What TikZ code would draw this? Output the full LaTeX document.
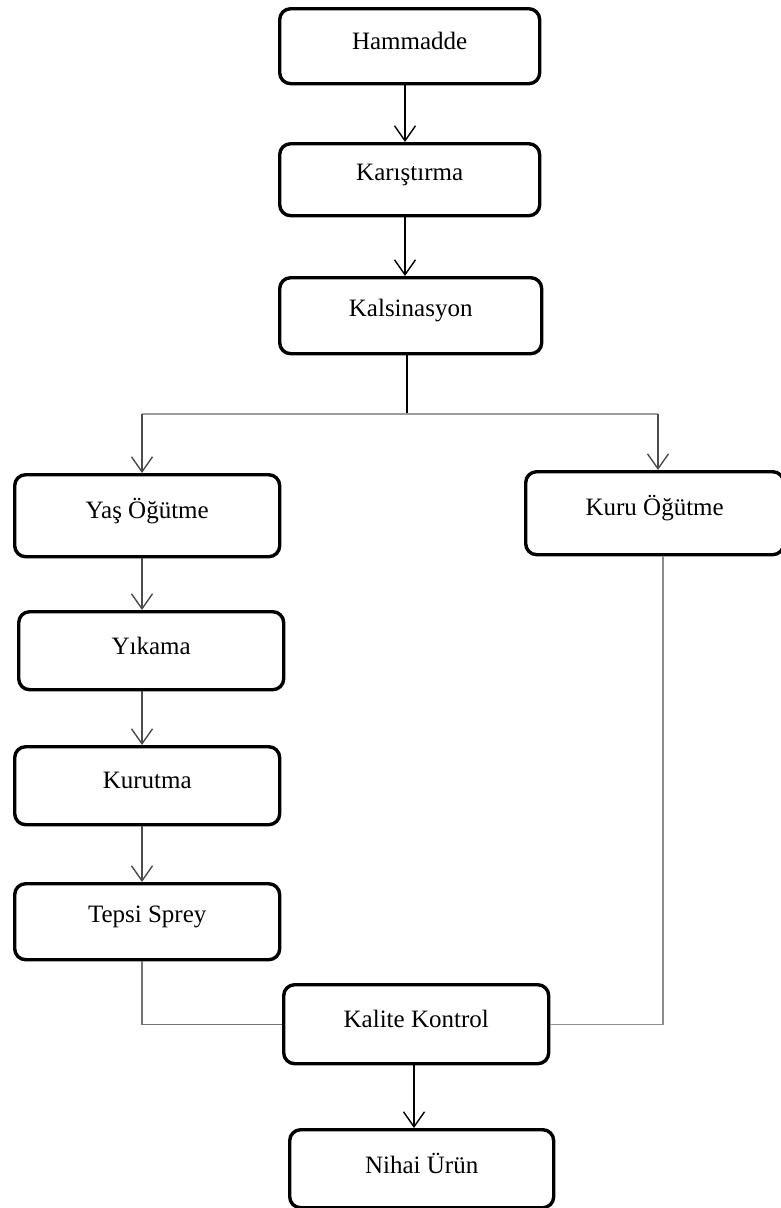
\documentclass[tikz,border=0pt]{standalone}
\usepackage{fontspec}
\setmainfont{Liberation Serif}
\usetikzlibrary{arrows.meta,calc}
\begin{document}
\begin{tikzpicture}[x=1pt,y=-1pt,
  stepbox/.style={draw=black,line width=3.4pt,rounded corners=11pt},
  lbl/.style={font=\fontsize{25}{29}\selectfont,inner sep=0pt},
  conn/.style={line width=1.4pt,-{Straight Barb[length=15pt,width=21pt,line width=1.4pt]}},
  plain/.style={line width=1.4pt}]
\useasboundingbox (0,0) rectangle (781,1208);
\fill[white] (0,0) rectangle (781,1208);
% boxes
\newcommand{\mybox}[6]{%
  \node[stepbox,minimum width=#4-#2,minimum height=#5-#3,anchor=north west] (#1) at (#2,#3) {};
  \node[lbl] (#1t) at ($(#1.center)+(0,-5)$) {#6};}
\mybox{ham}{278}{7}{538}{82}{Hammadde}
\mybox{kar}{278}{142}{538}{214}{Karıştırma}
\mybox{kal}{278}{276}{540}{352}{Kalsinasyon}
\mybox{yas}{13}{473}{278}{555}{Yaş Öğütme}
\mybox{kuru}{524}{470}{782}{553}{Kuru Öğütme}
\mybox{yik}{17}{610}{282}{688}{Yıkama}
\mybox{kur}{13}{745}{278}{823}{Kurutma}
\mybox{tep}{13}{882}{278}{958}{Tepsi Sprey}
\mybox{kk}{282}{983}{547}{1062}{Kalite Kontrol}
\mybox{nih}{288}{1128}{552}{1206}{Nihai Ürün}
% column x positions
\coordinate (cx) at (405,0);
\coordinate (kx) at (407,0);
\coordinate (lx) at (142,0);
\coordinate (rx) at (658,0);
\coordinate (rl) at (663,0);
\coordinate (bx) at (414,0);
% connectors
\draw[conn] (ham.south -| cx) -- (kar.north -| cx);
\draw[conn] (kar.south -| cx) -- (kal.north -| cx);
\coordinate (split) at (407,414);
\draw[plain] (kal.south -| kx) -- (split);
\draw[plain,color=black!38] (split -| lx) -- (split -| rx);
\draw[conn,color=black!70] (split -| lx) -- (yas.north -| lx);
\draw[conn,color=black!70] (split -| rx) -- (kuru.north -| rx);
\draw[conn,color=black!70] (yas.south -| lx) -- (yik.north -| lx);
\draw[conn,color=black!70] (yik.south -| lx) -- (kur.north -| lx);
\draw[conn,color=black!70] (kur.south -| lx) -- (tep.north -| lx);
\draw[plain,color=black!55] (tep.south -| lx) |- (kk.west);
\draw[plain,color=black!45] (kuru.south -| rl) |- (kk.east);
\draw[conn] (kk.south -| bx) -- (nih.north -| bx);
\end{tikzpicture}
\end{document}
